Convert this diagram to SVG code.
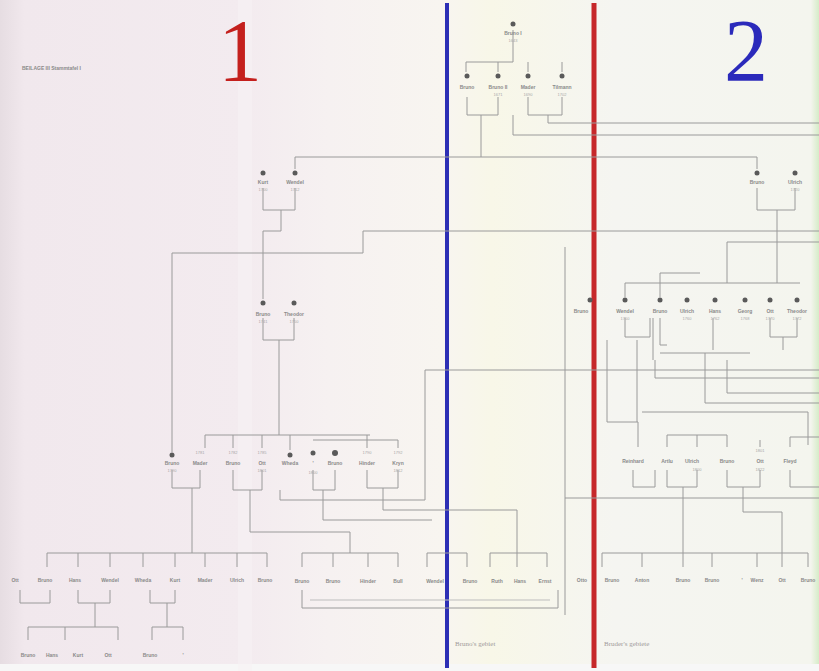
<svg xmlns="http://www.w3.org/2000/svg" width="819" height="671" viewBox="0 0 819 671">
<defs>
<linearGradient id="bg" x1="0" y1="0" x2="1" y2="0">
<stop offset="0" stop-color="#e6dde2"/>
<stop offset="0.03" stop-color="#f1e8ed"/>
<stop offset="0.3" stop-color="#f3ebef"/>
<stop offset="0.4" stop-color="#f6f1f1"/>
<stop offset="0.54" stop-color="#f8f5f0"/>
<stop offset="0.6" stop-color="#f8f7e8"/>
<stop offset="0.75" stop-color="#f5f5f1"/>
<stop offset="0.99" stop-color="#f4f5ee"/>
<stop offset="1" stop-color="#d6ecc8"/>
</linearGradient>
<style>
.c{fill:none;stroke:#9a9a9a;stroke-width:1}
.f{fill:none;stroke:#bdbdbd;stroke-width:1}
.d{fill:#5a5a5a}
.t{font-family:"Liberation Sans",Arial,sans-serif;font-size:5px;font-weight:bold;fill:#8a8a8a;text-anchor:middle}
.s{font-family:"Liberation Sans",Arial,sans-serif;font-size:4px;fill:#a8a8a8;text-anchor:middle}
.n{font-family:"Liberation Serif","Times New Roman",serif;font-size:88px;text-anchor:middle}
.g{font-family:"Liberation Serif","Times New Roman",serif;font-size:7px;fill:#a09a9a}
</style>
</defs>
<rect width="819" height="671" fill="url(#bg)"/>
<rect x="0" y="664" width="819" height="7" fill="#f7f7f7"/>
<rect x="238" y="0" width="14" height="671" fill="#f6f1f3" opacity="0.6"/>

<g id="title">
<text class="n" x="240" y="80" fill="#c4201d">1</text>
<text class="n" x="746" y="80" fill="#2b2abb">2</text>
<text class="t" x="22" y="70" style="text-anchor:start;font-size:5px">BEILAGE III  Stammtafel I</text>
</g>

<g id="dividers">
<line x1="447" y1="3" x2="447" y2="668" stroke="#2d2fb5" stroke-width="4"/>
<line x1="594" y1="3" x2="594" y2="668" stroke="#c6282a" stroke-width="5"/>
</g>

<g id="connectors">
<path class="c" d="M513,30 V62 H466 V72"/>
<path class="c" d="M498,62 V72 M528,62 V72 M562,62 V72"/>
<path class="c" d="M467,97 V115 H498 V97 M528,97 V115 H562 V97"/>
<path class="c" d="M481,115 V157"/>
<path class="c" d="M548,115 V123 H819"/>
<path class="c" d="M513,115 V135 H819"/>
<path class="c" d="M295,169 V157 H757 V169"/>
<path class="c" d="M263,188 V210 H295 V188 M281,210 V231 H263 V299"/>
<path class="c" d="M172,452 V253 H363 V231 H819"/>
<path class="c" d="M757,188 V210 H795 V188 M777,210 V283"/>
<path class="c" d="M625,297 V283 H800 M660,297 V273 H700 M727,283 V242 H819"/>
<path class="c" d="M565,247 V615"/>
<path class="c" d="M263,318 V340 H294 V318 M279,340 V435"/>
<path class="c" d="M205,435 H370 M205,435 V448 M233,435 V448 M262,435 V448 M290,435 V450 M367,435 V448"/>
<path class="c" d="M313,440 H398 M398,440 V448"/>
<path class="c" d="M172,470 V488 H200 V470 M233,470 V490 H262 V470 M313,470 V490 H335 V470 M367,470 V488 H398 V470"/>
<path class="c" d="M192,488 V553"/>
<path class="c" d="M250,490 V532 H350 V553"/>
<path class="c" d="M280,490 V500 H425 V370 H819"/>
<path class="c" d="M383,488 V510 H517 V553"/>
<path class="c" d="M323,490 V520 H432"/>
<path class="c" d="M47,567 V553 H267 V567 M78,553 V567 M110,553 V567 M143,553 V567 M175,553 V567 M205,553 V567 M237,553 V567"/>
<path class="c" d="M20,590 V603 H50 V590 M78,590 V603 H110 V590 M150,590 V603 H175 V590"/>
<path class="c" d="M95,603 V627 M28,640 V627 H118 V640 M65,627 V640 M167,603 V627 H152 V640 M167,627 H183 V640"/>
<path class="c" d="M302,567 V553 H398 V567 M333,553 V567 M368,553 V567"/>
<path class="c" d="M427,567 V553 H467 V567"/>
<path class="c" d="M490,567 V553 H547 V567 M517,553 V567"/>
<path class="c" d="M302,590 V608 H558 V590"/>
<path class="f" d="M310,600 H550"/>
<path class="c" d="M602,567 V553 H808 V567 M642,553 V567 M683,553 V567 M712,553 V567 M757,553 V567 M782,553 V567"/>
<path class="c" d="M625,318 V337 H650 V318"/>
<path class="c" d="M653,318 V360 M660,318 V345 H667"/>
<path class="c" d="M770,318 V337 H797 V318 M783,337 V350"/>
<path class="c" d="M713,318 V350 M660,353 H750"/>
<path class="c" d="M607,340 V422 H638 V447"/>
<path class="c" d="M637,340 V422"/>
<path class="c" d="M655,360 V378 H819"/>
<path class="c" d="M705,353 V403 H819"/>
<path class="c" d="M727,360 V393 H819"/>
<path class="c" d="M642,412 H808 V445"/>
<path class="c" d="M667,435 H727 M667,435 V447 M697,435 V447 M727,435 V447 M760,440 V447"/>
<path class="c" d="M790,437 H819 M790,437 V447"/>
<path class="c" d="M633,470 V487 H655 V470 M667,470 V487 H697 V470 M727,470 V487 H760 V470 M790,470 V487 H819"/>
<path class="c" d="M683,487 V553"/>
<path class="c" d="M743,487 V512 H782 V553"/>
<path class="c" d="M565,498 H819"/>
</g>

<g id="n-root"><circle class="d" cx="513" cy="24" r="2.5"/><text class="t" x="513" y="35">Bruno I</text><text class="s" x="513" y="42">1643</text></g>
<g id="n-a1"><circle class="d" cx="467" cy="76" r="2.5"/><text class="t" x="467" y="89">Bruno</text></g>
<g id="n-a2"><circle class="d" cx="498" cy="76" r="2.5"/><text class="t" x="498" y="89">Bruno II</text><text class="s" x="498" y="96">1671</text></g>
<g id="n-a3"><circle class="d" cx="528" cy="76" r="2.5"/><text class="t" x="528" y="89">Mader</text><text class="s" x="528" y="96">1690</text></g>
<g id="n-a4"><circle class="d" cx="562" cy="76" r="2.5"/><text class="t" x="562" y="89">Tilmann</text><text class="s" x="562" y="96">1702</text></g>

<g id="n-b1"><circle class="d" cx="263" cy="173" r="2.5"/><text class="t" x="263" y="184">Kurt</text><text class="s" x="263" y="191">1700</text></g>
<g id="n-b2"><circle class="d" cx="295" cy="173" r="2.5"/><text class="t" x="295" y="184">Wendel</text><text class="s" x="295" y="191">1712</text></g>
<g id="n-b3"><circle class="d" cx="757" cy="173" r="2.5"/><text class="t" x="757" y="184">Bruno</text></g>
<g id="n-b4"><circle class="d" cx="795" cy="173" r="2.5"/><text class="t" x="795" y="184">Ulrich</text><text class="s" x="795" y="191">1720</text></g>

<g id="n-c1"><circle class="d" cx="263" cy="303" r="2.5"/><text class="t" x="263" y="316">Bruno</text><text class="s" x="263" y="323">1741</text></g>
<g id="n-c2"><circle class="d" cx="294" cy="303" r="2.5"/><text class="t" x="294" y="316">Theodor</text><text class="s" x="294" y="323">1750</text></g>

<g id="n-r1"><circle class="d" cx="590" cy="300" r="2.5"/><text class="t" x="581" y="313">Bruno</text></g>
<g id="n-r2"><circle class="d" cx="625" cy="300" r="2.5"/><text class="t" x="625" y="313">Wendel</text><text class="s" x="625" y="320">1750</text></g>
<g id="n-r3"><circle class="d" cx="660" cy="300" r="2.5"/><text class="t" x="660" y="313">Bruno</text></g>
<g id="n-r4"><circle class="d" cx="687" cy="300" r="2.5"/><text class="t" x="687" y="313">Ulrich</text><text class="s" x="687" y="320">1760</text></g>
<g id="n-r5"><circle class="d" cx="715" cy="300" r="2.5"/><text class="t" x="715" y="313">Hans</text><text class="s" x="715" y="320">1762</text></g>
<g id="n-r6"><circle class="d" cx="745" cy="300" r="2.5"/><text class="t" x="745" y="313">Georg</text><text class="s" x="745" y="320">1768</text></g>
<g id="n-r7"><circle class="d" cx="770" cy="300" r="2.5"/><text class="t" x="770" y="313">Ott</text><text class="s" x="770" y="320">1770</text></g>
<g id="n-r8"><circle class="d" cx="797" cy="300" r="2.5"/><text class="t" x="797" y="313">Theodor</text><text class="s" x="797" y="320">1772</text></g>

<g id="n-d1"><circle class="d" cx="172" cy="455" r="2.5"/><text class="t" x="172" y="465">Bruno</text><text class="s" x="172" y="472">1790</text></g>
<g id="n-d2"><text class="s" x="200" y="454">1781</text><text class="t" x="200" y="465">Mader</text></g>
<g id="n-d3"><text class="s" x="233" y="454">1782</text><text class="t" x="233" y="465">Bruno</text></g>
<g id="n-d4"><text class="s" x="262" y="454">1785</text><text class="t" x="262" y="465">Ott</text><text class="s" x="262" y="472">1801</text></g>
<g id="n-d5"><circle class="d" cx="290" cy="455" r="2.5"/><text class="t" x="290" y="465">Wheda</text></g>
<g id="n-d6"><circle class="d" cx="313" cy="453" r="2.5"/><text class="t" x="313" y="465">'</text><text class="s" x="313" y="474">1800</text></g>
<g id="n-d7"><circle class="d" cx="335" cy="453" r="3"/><text class="t" x="335" y="465">Bruno</text></g>
<g id="n-d8"><text class="s" x="367" y="454">1790</text><text class="t" x="367" y="465">Hinder</text></g>
<g id="n-d9"><text class="s" x="398" y="454">1792</text><text class="t" x="398" y="465">Kryn</text><text class="s" x="398" y="472">1812</text></g>

<g id="n-e1"><text class="t" x="633" y="463">Reinhard</text></g>
<g id="n-e2"><text class="t" x="667" y="463">Artlu</text></g>
<g id="n-e3"><text class="t" x="692" y="463">Ulrich</text><text class="s" x="697" y="471">1800</text></g>
<g id="n-e4"><text class="t" x="727" y="463">Bruno</text></g>
<g id="n-e5"><text class="s" x="760" y="452">1801</text><text class="t" x="760" y="463">Ott</text><text class="s" x="760" y="471">1822</text></g>
<g id="n-e6"><text class="t" x="790" y="463">Fleyd</text></g>

<g id="n-f-left">
<text class="t" x="15" y="582">Ott</text><text class="t" x="45" y="582">Bruno</text><text class="t" x="75" y="582">Hans</text><text class="t" x="110" y="582">Wendel</text><text class="t" x="143" y="582">Wheda</text><text class="t" x="175" y="582">Kurt</text><text class="t" x="205" y="582">Mader</text><text class="t" x="237" y="582">Ulrich</text><text class="t" x="265" y="582">Bruno</text>
</g>
<g id="n-g-left">
<text class="t" x="28" y="657">Bruno</text><text class="t" x="52" y="657">Hans</text><text class="t" x="78" y="657">Kurt</text><text class="t" x="108" y="657">Ott</text><text class="t" x="150" y="657">Bruno</text><text class="t" x="183" y="657">'</text>
</g>
<g id="n-f-mid">
<text class="t" x="302" y="583">Bruno</text><text class="t" x="333" y="583">Bruno</text><text class="t" x="368" y="583">Hinder</text><text class="t" x="398" y="583">Bull</text><text class="t" x="435" y="583">Wendel</text><text class="t" x="470" y="583">Bruno</text><text class="t" x="497" y="583">Ruth</text><text class="t" x="520" y="583">Hans</text><text class="t" x="545" y="583">Ernst</text>
</g>
<g id="n-f-right">
<text class="t" x="582" y="582">Otto</text><text class="t" x="612" y="582">Bruno</text><text class="t" x="642" y="582">Anton</text><text class="t" x="683" y="582">Bruno</text><text class="t" x="712" y="582">Bruno</text><text class="t" x="742" y="582">'</text><text class="t" x="757" y="582">Wenz</text><text class="t" x="782" y="582">Ott</text><text class="t" x="808" y="582">Bruno</text>
</g>

<g id="captions">
<text class="g" x="455" y="646">Bruno's gebiet</text>
<text class="g" x="604" y="646">Bruder's gebiete</text>
</g>
</svg>
